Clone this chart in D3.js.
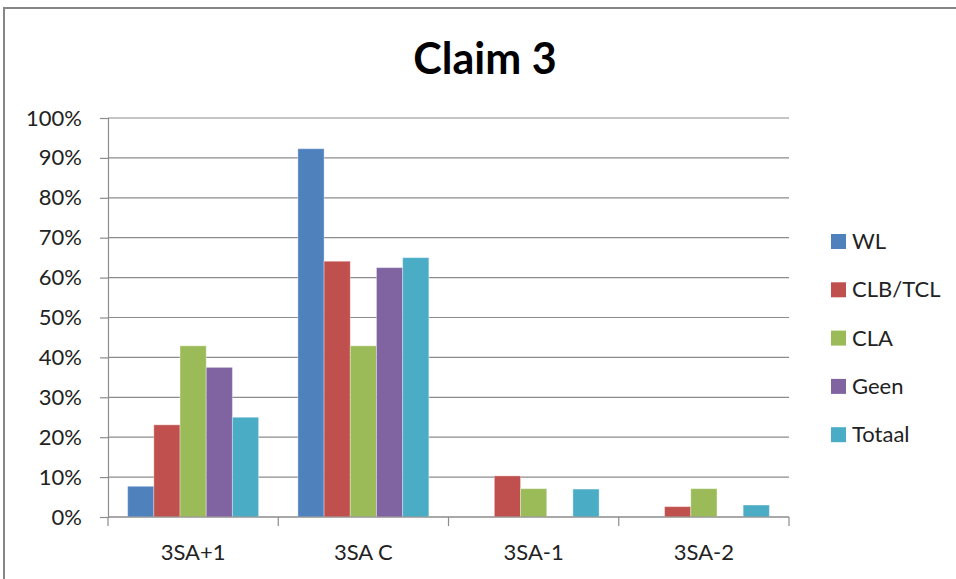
<!DOCTYPE html>
<html>
<head>
<meta charset="utf-8">
<script src="https://cdn.jsdelivr.net/npm/d3@7"></script>
<style>
  body { margin: 0; background: #fff; }
  svg { font-family: Lato, "Open Sans", sans-serif; }
</style>
</head>
<body>
<svg width="956" height="579"></svg>
<script>
var categories = ["3SA+1", "3SA C", "3SA-1", "3SA-2"];
var seriesNames = ["WL", "CLB/TCL", "CLA", "Geen", "Totaal"];
var seriesColors = ["#4F81BD", "#C0504D", "#9BBB59", "#8064A2", "#4BACC6"];
var wl = [7.7, 92.3, 0, 0];
var clb = [23.1, 64.1, 10.3, 2.6];
var cla = [42.9, 42.9, 7.1, 7.1];
var geen = [37.5, 62.5, 0, 0];
var totaal = [25, 65, 7, 3];
var yTicks = [0, 10, 20, 30, 40, 50, 60, 70, 80, 90, 100];

var values = [wl, clb, cla, geen, totaal];

var svg = d3.select("svg");

// outer frame
svg.append("rect")
    .attr("x", 4).attr("y", 8)
    .attr("width", 960).attr("height", 580)
    .attr("fill", "none")
    .attr("stroke", "#868686")
    .attr("stroke-width", 2);

svg.append("text")
    .attr("x", 485).attr("y", 74)
    .attr("text-anchor", "middle")
    .attr("font-size", 43)
    .attr("font-weight", "bold")
    .attr("fill", "#000")
    .text("Claim 3");

var x0 = d3.scaleBand()
    .domain(categories)
    .range([108, 789]);

// 150% gap width, like the original
var barW = x0.bandwidth() / 6.5;
var x1 = d3.scaleBand()
    .domain(seriesNames)
    .range([barW * 0.75, barW * 5.75]);

var y = d3.scaleLinear()
    .domain([0, 100])
    .range([517, 118]);

// gridlines
svg.append("g")
    .selectAll("line")
    .data(yTicks)
    .enter().append("line")
    .attr("x1", 108).attr("x2", 789)
    .attr("y1", function(d) { return y(d); })
    .attr("y2", function(d) { return y(d); })
    .attr("stroke", "#8c8c8c")
    .attr("stroke-width", 1.2);

// y axis
var yAxis = svg.append("g")
    .attr("transform", "translate(108,0)")
    .call(d3.axisLeft(y)
        .tickValues(yTicks)
        .tickSize(8)
        .tickPadding(18)
        .tickFormat(function(d) { return d + "%"; }));
yAxis.select(".domain").attr("stroke", "#8c8c8c").attr("stroke-width", 1.2);
yAxis.selectAll(".tick line").attr("stroke", "#8c8c8c").attr("stroke-width", 1.2);
yAxis.selectAll("text")
    .attr("font-size", 22)
    .attr("font-family", "Lato, 'Open Sans', sans-serif")
    .attr("fill", "#222");

// bars
var groups = svg.append("g")
    .selectAll("g")
    .data(categories)
    .enter().append("g")
    .attr("transform", function(d) { return "translate(" + x0(d) + ",0)"; });

groups.selectAll("rect")
    .data(function(c, i) {
        return seriesNames.map(function(s, j) { return { s: s, v: values[j][i], color: seriesColors[j] }; });
    })
    .enter().append("rect")
    .filter(function(d) { return d.v > 0; })
    .attr("x", function(d) { return x1(d.s); })
    .attr("width", x1.bandwidth())
    .attr("y", function(d) { return y(d.v); })
    .attr("height", function(d) { return y(0) - y(d.v); })
    .attr("fill", function(d) { return d.color; })
    .attr("stroke", "rgba(255,255,255,0.35)")
    .attr("stroke-width", 1);

// x axis
svg.append("line")
    .attr("x1", 108).attr("x2", 789)
    .attr("y1", y(0)).attr("y2", y(0))
    .attr("stroke", "#8c8c8c").attr("stroke-width", 1.2);

var boundaries = categories.map(function(c) { return x0(c); }).concat([789]);
svg.append("g")
    .selectAll("line")
    .data(boundaries)
    .enter().append("line")
    .attr("x1", function(d) { return d; })
    .attr("x2", function(d) { return d; })
    .attr("y1", y(0)).attr("y2", y(0) + 9)
    .attr("stroke", "#8c8c8c").attr("stroke-width", 1.2);

svg.append("g")
    .selectAll("text")
    .data(categories)
    .enter().append("text")
    .attr("x", function(d) { return x0(d) + x0.bandwidth() / 2; })
    .attr("y", 560)
    .attr("text-anchor", "middle")
    .attr("font-size", 22)
    .attr("fill", "#222")
    .text(function(d) { return d; });

// legend
var legend = svg.append("g")
    .selectAll("g")
    .data(seriesNames)
    .enter().append("g")
    .attr("transform", function(d, i) { return "translate(831," + (241 + i * 48.3) + ")"; });

legend.append("rect")
    .attr("x", 0).attr("y", -7)
    .attr("width", 15).attr("height", 15)
    .attr("fill", function(d, i) { return seriesColors[i]; });

legend.append("text")
    .attr("x", 21).attr("y", 8)
    .attr("font-size", 22)
    .attr("fill", "#222")
    .text(function(d) { return d; });
</script>
</body>
</html>
